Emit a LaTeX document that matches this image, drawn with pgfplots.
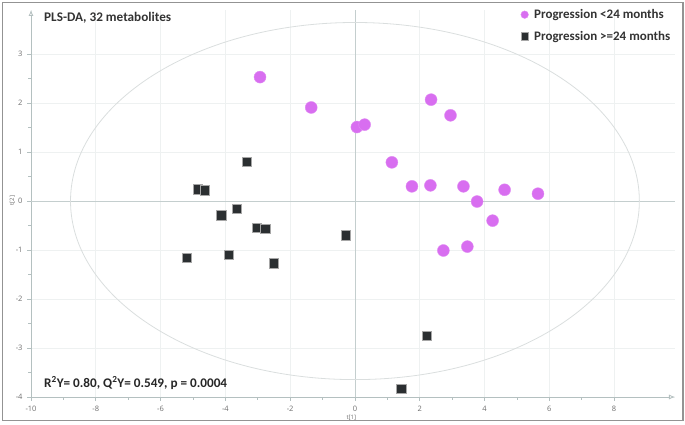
\documentclass[border=0pt]{standalone}
\usepackage{pgfplots}
\pgfplotsset{compat=1.18}
\usetikzlibrary{arrows.meta}
\usepackage{fontspec}
\setmainfont{Carlito}
\newfontfamily\tickfont{Open Sans}
\definecolor{pinkpt}{HTML}{D86EF0}
\definecolor{darkpt}{HTML}{2B2F31}
\definecolor{axiscol}{HTML}{B4C0C0}
\definecolor{gridcol}{HTML}{EEF1F1}
\definecolor{zerocol}{HTML}{C4CECE}
\definecolor{ellcol}{HTML}{DADEDE}
\definecolor{ticklab}{HTML}{6E6E6E}
\begin{document}
\begin{tikzpicture}
\begin{axis}[
  scale only axis,
  width=644pt, height=387pt,
  xmin=-10, xmax=9.88,
  ymin=-4, ymax=3.9,
  clip=false,
  axis lines=left,
  axis line style={axiscol, line width=0.8pt, -{Latex[open,length=6pt,width=5pt]}},
  xtick={-10,-8,...,8},
  ytick={-4,-3,...,3},
  minor x tick num=1,
  minor y tick num=1,
  tick align=outside,
  major tick length=4pt,
  minor tick length=3pt,
  tick style={axiscol, line width=0.6pt},
  xmajorgrids, ymajorgrids,
  major grid style={gridcol, line width=0.6pt},
  /pgf/number format/assume math mode=true,
  tick label style={font=\tickfont\fontsize{7.5}{9}\selectfont, text=ticklab},
  xticklabel style={yshift=-2pt},
  yticklabel style={xshift=-1pt},
  xlabel={t[1]}, ylabel={t[2]},
  xlabel style={font=\tickfont\fontsize{6}{7}\selectfont, text=ticklab, at={(axis description cs:0.4974,-0.055)}, anchor=center},
  ylabel style={font=\tickfont\fontsize{6}{7}\selectfont, text=ticklab, at={(axis description cs:-0.029,0.5078)}, anchor=center, rotate=0},
  legend style={draw=none, fill=none, at={(axis description cs:0.7585,1.006)}, anchor=north west,
    inner sep=0pt, row sep=8pt, font=\bfseries\fontsize{13}{15}\selectfont, text=black!80,
    nodes={inner ysep=1.5pt, inner xsep=2pt}},
  legend cell align=left,
  legend image code/.code={\path[draw=none,fill=none] (0pt,0pt) -- (12.5pt,0pt); \draw[#1, only marks] plot coordinates {(5pt,0pt)};},
  legend image post style={mark size=3.8pt},
]
% zero lines
\draw[zerocol, line width=0.8pt] (axis cs:0,-4) -- (axis cs:0,3.9);
\draw[zerocol, line width=0.8pt] (axis cs:-10,0) -- (axis cs:9.88,0);
% Hotelling ellipse
\draw[ellcol, line width=0.8pt] (axis cs:0,0) ellipse [x radius=8.78, y radius=3.645];
% frame and page extent
\draw[gray!85, line width=1.3pt] (axis description cs:-0.0443,-0.0607) rectangle (axis description cs:1.0124,1.0194);
\path (axis description cs:-0.04814,-0.06977) rectangle (axis description cs:1.01553,1.02584);

\addplot[only marks, mark=*, mark size=6pt, mark options={fill=pinkpt, draw=pinkpt!80!white, line width=0.4pt}, color=pinkpt] coordinates {
(-2.93,2.53) (-1.35,1.91) (2.35,2.07) (2.95,1.75) (0.06,1.51) (0.30,1.56)
(1.14,0.79) (1.76,0.30) (2.33,0.32) (3.35,0.30) (4.62,0.23) (5.65,0.15)
(3.77,-0.01) (4.25,-0.40) (2.73,-1.01) (3.47,-0.93)
};
\addlegendentry{Progression <24 months}
\addplot[only marks, mark=square*, mark size=4.6pt, mark options={fill=darkpt, draw=gray!70, line width=0.5pt}, color=darkpt] coordinates {
(-3.33,0.80) (-4.85,0.24) (-4.64,0.22) (-4.13,-0.29) (-3.64,-0.16)
(-3.02,-0.54) (-2.77,-0.57) (-0.29,-0.70) (-5.18,-1.15) (-3.90,-1.10)
(-2.50,-1.27) (2.21,-2.75) (1.43,-3.83)
};
\addlegendentry{Progression >=24 months}

\node[anchor=west, font=\bfseries\fontsize{13.2}{15}\selectfont, text=black!80, inner sep=0pt] at (axis description cs:0.0202,0.979) {PLS-DA, 32 metabolites};
\node[anchor=west, font=\bfseries\fontsize{13.2}{15}\selectfont, text=black!85, inner sep=0pt] at (axis description cs:0.0202,0.036) {R\textsuperscript{2}Y= 0.80, Q\textsuperscript{2}Y= 0.549, p = 0.0004};
\end{axis}
\end{tikzpicture}
\end{document}
